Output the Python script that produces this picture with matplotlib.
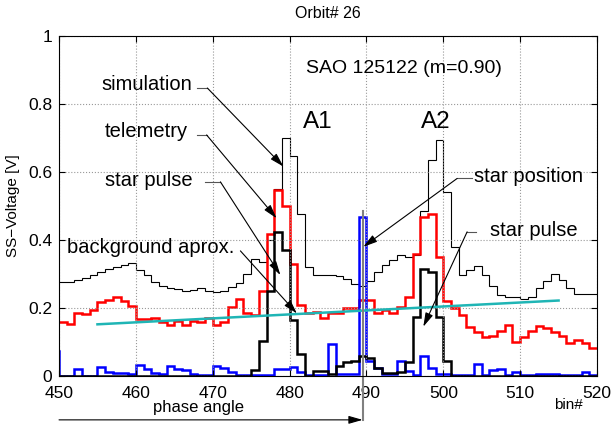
from matplotlib import pyplot as plt
import numpy as np

plt.rcParams['font.family'] = ['Liberation Sans', 'DejaVu Sans']

# bins 449..519, each step spans [k, k+1]
edges = np.arange(449, 521)

simulation = [0.276, 0.276, 0.276, 0.283, 0.289, 0.296, 0.307, 0.315, 0.322, 0.326,
              0.331, 0.313, 0.298, 0.276, 0.266, 0.259, 0.256, 0.251, 0.254, 0.259,
              0.251, 0.246, 0.249, 0.261, 0.275, 0.300, 0.345, 0.336, 0.400, 0.550,
              0.700, 0.648, 0.477, 0.320, 0.296, 0.296, 0.296, 0.293, 0.286, 0.271,
              0.265, 0.280, 0.305, 0.327, 0.340, 0.356, 0.350, 0.357, 0.485, 0.634,
              0.693, 0.540, 0.379, 0.296, 0.313, 0.323, 0.296, 0.265, 0.237, 0.232,
              0.232, 0.227, 0.232, 0.260, 0.280, 0.300, 0.283, 0.260, 0.240, 0.240,
              0.240]

telemetry = [0.158, 0.158, 0.153, 0.185, 0.181, 0.193, 0.219, 0.224, 0.232, 0.222,
             0.207, 0.168, 0.168, 0.172, 0.160, 0.149, 0.163, 0.149, 0.163, 0.160,
             0.172, 0.149, 0.158, 0.202, 0.226, 0.185, 0.179, 0.251, 0.418, 0.548,
             0.501, 0.330, 0.210, 0.185, 0.188, 0.172, 0.184, 0.186, 0.200, 0.200,
             0.225, 0.225, 0.185, 0.193, 0.185, 0.202, 0.232, 0.359, 0.467, 0.477,
             0.350, 0.222, 0.200, 0.180, 0.144, 0.130, 0.114, 0.119, 0.132, 0.149,
             0.100, 0.114, 0.132, 0.146, 0.142, 0.130, 0.119, 0.097, 0.105, 0.097,
             0.083]

star_pulse = [0, 0, 0, 0, 0, 0, 0, 0, 0, 0,
              0, 0, 0, 0, 0, 0, 0, 0, 0, 0,
              0, 0, 0, 0, 0, 0, 0.018, 0.104, 0.251, 0.423,
              0.370, 0.165, 0.065, 0.0, 0.016, 0.016, 0.005, 0.028, 0.040, 0.044,
              0.059, 0.052, 0.025, 0.010, 0.010, 0.012, 0.040, 0.173, 0.315, 0.306,
              0.173, 0.044, 0, 0, 0, 0, 0, 0, 0, 0,
              0, 0, 0, 0, 0, 0, 0, 0, 0, 0,
              0]

blue = [0.075, 0, 0, 0.021, 0, 0, 0.027, 0.012, 0.008, 0.008,
        0.005, 0.033, 0.020, 0.008, 0.005, 0.030, 0.020, 0.018, 0.005, 0.003,
        0.003, 0.030, 0.023, 0.012, 0.003, 0.003, 0.003, 0.003, 0.003, 0.020,
        0.020, 0.027, 0.012, 0.003, 0.003, 0.003, 0.095, 0.005, 0.005, 0.005,
        0.467, 0.045, 0.025, 0.005, 0.005, 0.045, 0.015, 0.003, 0.060, 0.025,
        0.005, 0.005, 0.003, 0.003, 0.003, 0.035, 0.003, 0.018, 0.022, 0.003,
        0.012, 0.003, 0.003, 0.005, 0.005, 0.005, 0.003, 0.003, 0.003, 0.012,
        0.003]

bg_x = [455, 515]
bg_y = [0.152, 0.222]

star_pos = 489.5
xticks = [450, 460, 470, 480, 490, 500, 510, 520]
yticks = [0, 0.2, 0.4, 0.6, 0.8, 1]
ytick_labels = ["0", "0.2", "0.4", "0.6", "0.8", "1"]

fig = plt.figure(figsize=(6.11, 4.24), dpi=100)
ax = fig.add_axes([0.0966, 0.1132, 0.8805, 0.8019])

ax.stairs(simulation, edges, color="black", lw=0.8, baseline=None)
ax.stairs(telemetry, edges, color="#ff0000", lw=1.8, baseline=None)
ax.plot(bg_x, bg_y, color="#1fb5b5", lw=1.8)
ax.stairs(blue, edges, color="#0000ff", lw=1.8, baseline=None)
ax.stairs(star_pulse, edges, color="black", lw=1.8, baseline=None)

ax.set_xlim(450, 520)
ax.set_ylim(0, 1)
ax.set_xticks(xticks)
ax.set_yticks(yticks)
ax.set_yticklabels(ytick_labels)
ax.tick_params(direction="in", top=True, right=True, length=4, labelsize=12.5)
ax.tick_params(axis="x", pad=7)
ax.tick_params(axis="y", pad=5)
ax.grid(True, linestyle=":", color="#999999", lw=0.8)
ax.set_title("Orbit# 26", fontsize=11.5, pad=13)
ax.set_ylabel("SS\u2212Voltage [V]", fontsize=11, labelpad=6)

# star position marker and phase angle arrow below the axis
ax.plot([star_pos, star_pos], [0.485, -0.129], color="#808080", lw=1.5, clip_on=False)
ax.annotate("", xy=(star_pos, -0.129), xytext=(450, -0.129), annotation_clip=False,
            arrowprops=dict(arrowstyle="-|>,head_length=0.7,head_width=0.2",
                            mutation_scale=12, color="black", lw=0.8,
                            shrinkA=0, shrinkB=0))
ax.text(468.2, -0.094, "phase angle", fontsize=12, ha="center", va="center")
ax.text(516.3, -0.085, "bin#", fontsize=11, ha="center", va="center")

ax.text(494.9, 0.903, "SAO 125122 (m=0.90)", fontsize=14, ha="center", va="center")
ax.text(483.7, 0.747, "A1", fontsize=17.5, ha="center", va="center")
ax.text(499.0, 0.747, "A2", fontsize=17.5, ha="center", va="center")

arrow = dict(arrowstyle="-|>,head_length=0.7,head_width=0.2", mutation_scale=12,
             color="black", lw=0.8, shrinkA=0, shrinkB=0)

# (label, text x, text y, ha, horizontal start, horizontal end, line y, head x, head y)
notes = [
    ("simulation", 467.3, 0.856, "right", 468.0, 469.3, 0.847, 479.2, 0.616),
    ("telemetry", 466.8, 0.720, "right", 467.9, 469.2, 0.709, 478.3, 0.464),
    ("star pulse", 467.4, 0.574, "right", 469.0, 471.0, 0.571, 478.8, 0.297),
    ("background aprox.", 472.8, 0.379, "right", 473.6, 473.6, 0.368, 480.95, 0.184),
    ("star position", 504.0, 0.588, "left", 503.7, 501.8, 0.581, 489.6, 0.380),
    ("star pulse", 506.1, 0.429, "left", 504.2, 503.1, 0.424, 497.4, 0.145),
]
for label, tx, ty, ha, h0, h1, ly, hx, hy in notes:
    ax.text(tx, ty, label, fontsize=14.5, ha=ha, va="center")
    ax.plot([h0, h1], [ly, ly], color="#555555", lw=0.8)
    ax.annotate("", xy=(hx, hy), xytext=(h1, ly), arrowprops=arrow)

fig.savefig("out.png", dpi=100)
